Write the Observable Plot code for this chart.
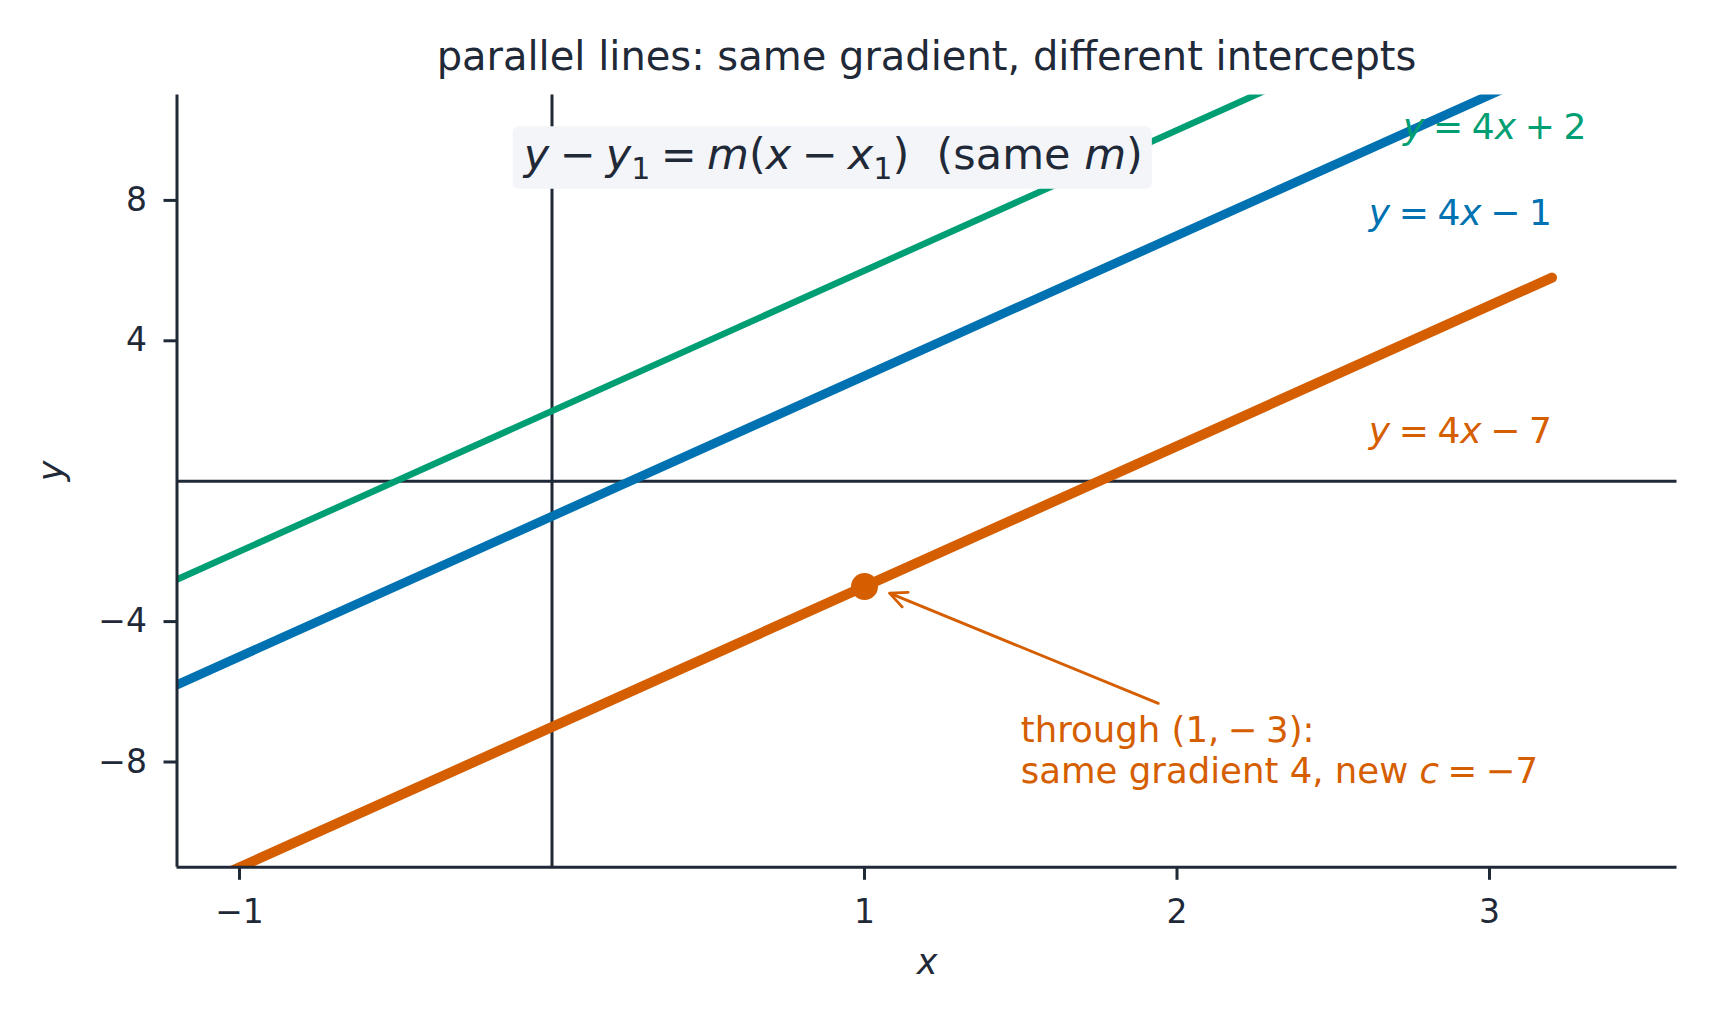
<!DOCTYPE html>
<html>
<head>
<meta charset="utf-8">
<script src="https://cdn.jsdelivr.net/npm/d3@7"></script>
<script src="https://cdn.jsdelivr.net/npm/@observablehq/plot@0.6"></script>
<style>
  html, body { margin: 0; padding: 0; background: #ffffff; }
  #wrap { position: relative; width: 1718px; height: 1026px; overflow: hidden; }
  #head { position: relative; width: 1718px; height: 80px; }
  #title { position: absolute; left: 176.5px; width: 1500px; top: 36px; text-align: center;
           font-family: "DejaVu Sans", sans-serif; font-size: 40px; line-height: 40px; color: #1f2937; white-space: nowrap; }
  svg text { white-space: pre; }
</style>
</head>
<body>
<div id="wrap">
  <div id="head"><div id="title">parallel lines: same gradient, different intercepts</div></div>
  <div id="chart"></div>
</div>
<script>
// ---- data ----
const xDomain = [-1.2, 3.6];
const yDomain = [-11, 11];
const xTicks = [-1, 1, 2, 3];
const yTicks = [-8, -4, 4, 8];

const lineX = [-1.2, 3.2];
const greenY = [-2.8, 14.8];   // y = 4x + 2
const blueY = [-5.8, 11.8];    // y = 4x − 1
const orangeY = [-11.8, 5.8];  // y = 4x − 7

const labelText = ["$y = 4x + 2$", "$y = 4x − 1$", "$y = 4x − 7$"];
const labelX = [3.31, 3.2, 3.2];
const labelY = [9.76, 7.3, 1.1];

const pointXY = [1, -3];
const arrowFrom = [1.94, -6.33];
const arrowTo = [1.08, -3.19];

const formulaText = "$y − y_1 = m(x − x_1)$  (same $m$)";
const formulaXY = [0.9, 9.28];

const noteLines = ["through $(1, − 3)$:", "same gradient 4, new $c = −7$"];
const noteX = [1.5, 1.5];
const noteY = [-7.44, -8.6];

// ---- styles ----
const ink = "#1f2937";
const green = "#009E73", blue = "#0072B2", orange = "#D55E00";
const fmt = d => d < 0 ? "\u2212" + Math.abs(d) : String(d);
const plain = s => s.replace(/\$/g, "").replace(/_1/g, "\u2081");
const markup = new Map();
[...labelText, formulaText, ...noteLines].forEach(s => markup.set(plain(s), s));

const pts = ys => lineX.map((x, i) => ({x, y: ys[i]}));
const lbl = i => [{x: labelX[i], y: labelY[i], t: labelText[i]}];

const chart = Plot.plot({
  width: 1718,
  height: 946,
  marginLeft: 176.5,
  marginRight: 41.5,
  marginTop: 14.6,
  marginBottom: 159.2,
  style: {fontFamily: "DejaVu Sans, sans-serif", fontSize: "33px", color: ink, background: "#ffffff", overflow: "visible"},
  x: {domain: xDomain, label: null},
  y: {domain: yDomain, label: null},
  marks: [
    Plot.ruleX([0], {stroke: ink, strokeWidth: 3}),
    Plot.ruleY([0], {stroke: ink, strokeWidth: 3}),
    Plot.line(pts(greenY), {x: "x", y: "y", stroke: green, strokeWidth: 6.5, clip: true}),
    Plot.line(pts(blueY), {x: "x", y: "y", stroke: blue, strokeWidth: 9, clip: true}),
    Plot.line(pts(orangeY), {x: "x", y: "y", stroke: orange, strokeWidth: 10, strokeLinecap: "round", clip: true}),
    Plot.dot([pointXY], {x: d => d[0], y: d => d[1], r: 13.5, fill: orange, stroke: "none"}),
    Plot.arrow([{x1: arrowFrom[0], y1: arrowFrom[1], x2: arrowTo[0], y2: arrowTo[1]}],
      {x1: "x1", y1: "y1", x2: "x2", y2: "y2", stroke: orange, strokeWidth: 2.8, headLength: 10, headAngle: 50}),
    Plot.axisX({ticks: xTicks, tickFormat: fmt, tickSize: 13, tickPadding: 19.5, strokeWidth: 3, label: null}),
    Plot.axisY({ticks: yTicks, tickFormat: fmt, tickSize: 13, tickPadding: 17, strokeWidth: 3, label: null}),
    Plot.ruleX([xDomain[0]], {stroke: ink, strokeWidth: 3}),
    Plot.ruleY([yDomain[0]], {stroke: ink, strokeWidth: 3}),
    Plot.text(lbl(0), {x: "x", y: "y", text: d => plain(d.t), fill: green, textAnchor: "end", lineAnchor: "bottom", fontSize: 36, className: "rich"}),
    Plot.text(lbl(1), {x: "x", y: "y", text: d => plain(d.t), fill: blue, textAnchor: "end", lineAnchor: "bottom", fontSize: 36, className: "rich"}),
    Plot.text(lbl(2), {x: "x", y: "y", text: d => plain(d.t), fill: orange, textAnchor: "end", lineAnchor: "bottom", fontSize: 36, className: "rich"}),
    Plot.text(noteLines.map((t, i) => ({t, x: noteX[i], y: noteY[i]})),
      {x: "x", y: "y", text: d => plain(d.t), fill: orange, textAnchor: "start", lineAnchor: "bottom", fontSize: 35.5, className: "rich"}),
    Plot.text([formulaText], {x: () => formulaXY[0], y: () => formulaXY[1], text: d => plain(d), fill: ink, textAnchor: "middle", lineAnchor: "middle", fontSize: 43, className: "rich formula"}),
    Plot.text(["x"], {frameAnchor: "bottom", dy: 95, text: d => d, fill: ink, fontStyle: "italic", fontSize: 35, lineAnchor: "middle"}),
    Plot.text(["y"], {frameAnchor: "left", dx: -125, text: d => d, fill: ink, fontStyle: "italic", fontSize: 35, lineAnchor: "middle", rotate: -90})
  ]
});
document.getElementById("chart").appendChild(chart);

// ---- math-style text: italic variables, subscripts, tighter math spacing ----
const NS = "http://www.w3.org/2000/svg";
function rich(t, s) {
  const fs = parseFloat(getComputedStyle(t).fontSize) || 32;
  while (t.firstChild) t.removeChild(t.firstChild);
  let math = false, pend = 0, gap = 0;
  const add = (str, italic, sub) => {
    const ts = document.createElementNS(NS, "tspan");
    ts.textContent = str;
    if (italic) ts.setAttribute("font-style", "italic");
    if (gap) { ts.setAttribute("dx", gap); gap = 0; }
    if (sub) { ts.setAttribute("font-size", fs * 0.7); ts.setAttribute("dy", fs * 0.22); pend = -fs * 0.22; }
    else if (pend) { ts.setAttribute("dy", pend); pend = 0; }
    t.appendChild(ts);
  };
  for (let i = 0; i < s.length; i++) {
    const c = s[i];
    if (c === "$") { math = !math; continue; }
    if (math && c === " ") { gap += fs * 0.24; continue; }
    if (math && c === "_") { add(s[i + 1], false, true); i++; continue; }
    add(c, math && /[a-zA-Z]/.test(c), false);
  }
}
chart.querySelectorAll("g.rich text").forEach(t => {
  const s = markup.get(t.textContent);
  if (s) rich(t, s);
});

// ---- rounded box behind the formula ----
const ft = chart.querySelector("g.formula text");
if (ft) {
  const bb = ft.getBBox();
  const g = ft.parentNode;
  const tr = ft.getAttribute("transform") || "";
  const r = document.createElementNS(NS, "rect");
  r.setAttribute("x", bb.x - 9);
  r.setAttribute("y", bb.y - 3);
  r.setAttribute("width", bb.width + 18);
  r.setAttribute("height", bb.height + 6);
  r.setAttribute("rx", 6);
  r.setAttribute("fill", "#f3f5f8");
  if (tr) r.setAttribute("transform", tr);
  g.insertBefore(r, ft);
}
</script>
</body>
</html>
